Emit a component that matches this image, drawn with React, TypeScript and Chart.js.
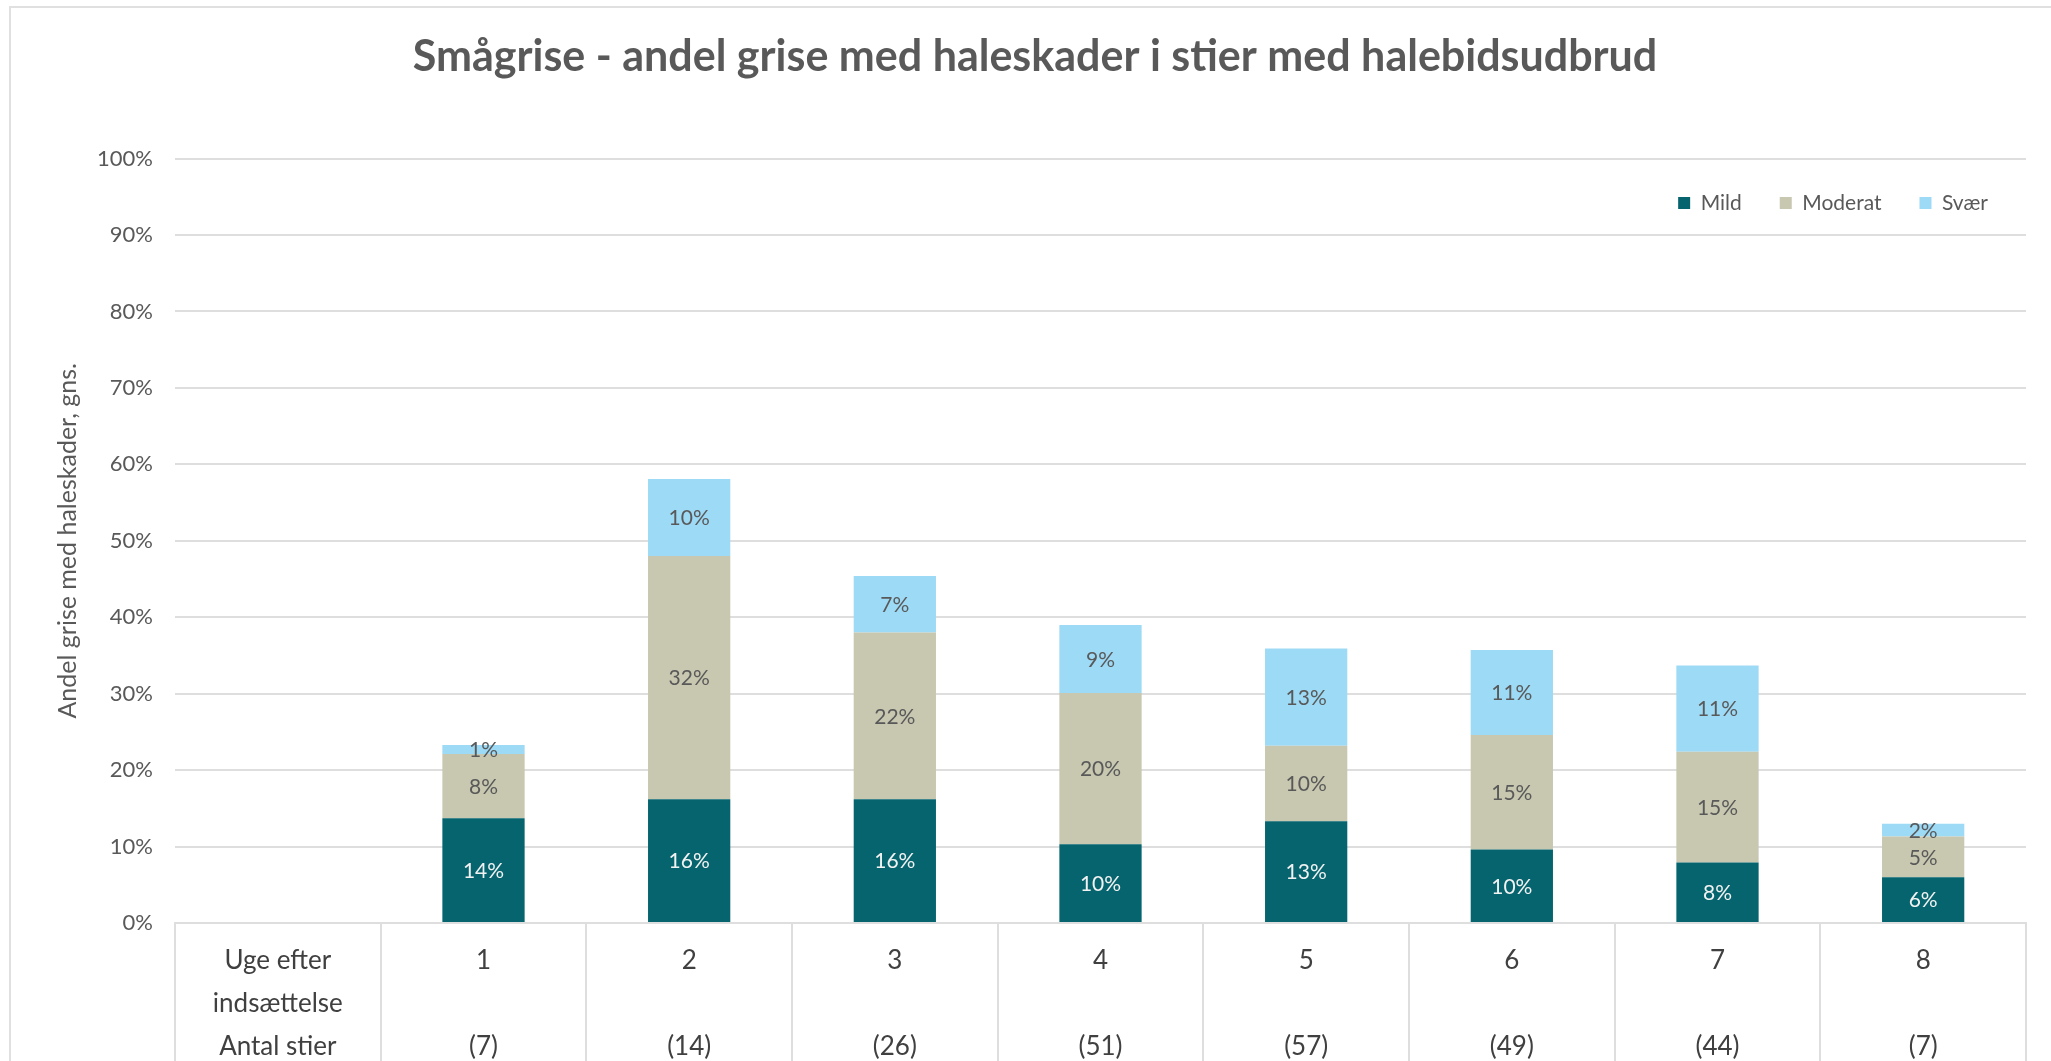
import React, { useEffect, useRef } from "react";
import { Chart, registerables } from "chart.js";

Chart.register(...registerables);

const TITLE = "Smågrise - andel grise med haleskader i stier med halebidsudbrud";
const Y_TITLE = "Andel grise med haleskader, gns.";
const WEEK_LABELS = ["Uge efter|indsættelse", "1", "2", "3", "4", "5", "6", "7", "8"];
const PEN_COUNTS = ["Antal stier", "(7)", "(14)", "(26)", "(51)", "(57)", "(49)", "(44)", "(7)"];
const MILD = [null, 13.7, 16.2, 16.2, 10.3, 13.3, 9.6, 7.9, 6.0];
const MODERAT = [null, 8.4, 31.8, 21.8, 19.8, 9.9, 15.0, 14.5, 5.3];
const SVAER = [null, 1.2, 10.1, 7.4, 8.9, 12.7, 11.1, 11.3, 1.7];
const SERIES_NAMES = ["Mild", "Moderat", "Svær"];
const COLORS = ["#05646e", "#c8c7b0", "#9ddaf6"];
const LABEL_COLORS = ["#f2f2f2", "#595959", "#595959"];

const FONT = "Lato, 'Open Sans', sans-serif";
const LEGEND_SHIFT = 65;
const TITLE_SHIFT = 22;

const dataLabelPlugin = {
  id: "segLabels",
  afterDatasetsDraw(chart: any) {
    const ctx = chart.ctx;
    ctx.save();
    ctx.font = `21px ${FONT}`;
    ctx.textAlign = "center";
    ctx.textBaseline = "middle";
    chart.data.datasets.forEach((ds: any, di: number) => {
      const meta = chart.getDatasetMeta(di);
      meta.data.forEach((bar: any, i: number) => {
        const v = ds.data[i];
        if (v == null) return;
        const { x, y, base } = bar.getProps(["x", "y", "base"], true);
        ctx.fillStyle = LABEL_COLORS[di];
        ctx.fillText(Math.round(v) + "%", x, (y + base) / 2 + 1);
      });
    });
    ctx.restore();
  },
};

const shiftPlugin = {
  id: "boxShift",
  afterLayout(chart: any) {
    const lg = chart.legend;
    if (lg) {
      lg.top += LEGEND_SHIFT;
      lg.bottom += LEGEND_SHIFT;
    }
    const tb = chart.titleBlock;
    if (tb) {
      tb.left += TITLE_SHIFT;
      tb.right += TITLE_SHIFT;
    }
  },
};

export default function App() {
  const ref = useRef<HTMLCanvasElement | null>(null);
  useEffect(() => {
    document.body.style.margin = "0";
    const labels = WEEK_LABELS.map((w, i) => {
      const parts = w.split("|");
      if (parts.length > 1) return [parts[0], parts[1], PEN_COUNTS[i]];
      return [parts[0], "", PEN_COUNTS[i]];
    });
    const chart = new Chart(ref.current as HTMLCanvasElement, {
      type: "bar",
      data: {
        labels,
        datasets: [MILD, MODERAT, SVAER].map((d, i) => ({
          label: SERIES_NAMES[i],
          data: d,
          backgroundColor: COLORS[i],
          borderWidth: 0,
          barPercentage: 0.4,
          categoryPercentage: 1,
        })),
      },
      options: {
        animation: false,
        responsive: false,
        maintainAspectRatio: false,
        layout: { padding: { left: 0, right: 25, top: 0, bottom: 0 } },
        plugins: {
          title: {
            display: true,
            text: TITLE,
            color: "#595959",
            font: { family: FONT, size: 43, weight: "bold" },
            padding: { top: 31, bottom: 7 },
          },
          legend: {
            position: "top",
            align: "end",
            labels: {
              boxWidth: 12,
              boxHeight: 12,
              padding: 38,
              color: "#595959",
              font: { family: FONT, size: 21 },
            },
          },
          tooltip: { enabled: false },
        },
        scales: {
          x: {
            stacked: true,
            offset: true,
            grid: {
              offset: true,
              drawOnChartArea: false,
              drawTicks: true,
              tickLength: 140,
              color: "#dedede",
              lineWidth: 2,
            },
            border: { display: true, color: "#dedede", width: 2 },
            ticks: {
              color: "#404040",
              font: { family: FONT, size: 26, lineHeight: 1.65 },
              padding: -124,
              maxRotation: 0,
              autoSkip: false,
            },
            afterFit: (s: any) => {
              s.height = 138;
            },
          },
          y: {
            stacked: true,
            min: 0,
            max: 100,
            grid: { color: "#dedede", lineWidth: 2, drawTicks: false },
            border: { display: false },
            ticks: {
              stepSize: 10,
              padding: 22,
              color: "#595959",
              font: { family: FONT, size: 22 },
              callback: (v: any) => v + "%",
            },
            title: {
              display: true,
              text: Y_TITLE,
              color: "#595959",
              font: { family: FONT, size: 25 },
              padding: { top: 53, bottom: 0 },
            },
            afterFit: (s: any) => {
              s.width = 175;
            },
          },
        },
      },
      plugins: [dataLabelPlugin, shiftPlugin],
    });
    return () => chart.destroy();
  }, []);
  return (
    <div style={{ position: "relative", width: 2051, height: 1061, background: "#fff", overflow: "hidden" }}>
      <canvas ref={ref} width={2051} height={1061} style={{ position: "absolute", left: 0, top: 0 }} />
      <div
        style={{
          position: "absolute",
          left: 9,
          top: 6,
          width: 2100,
          height: 1100,
          borderLeft: "2px solid #e0e0e0",
          borderTop: "2px solid #e0e0e0",
          pointerEvents: "none",
        }}
      />
    </div>
  );
}
